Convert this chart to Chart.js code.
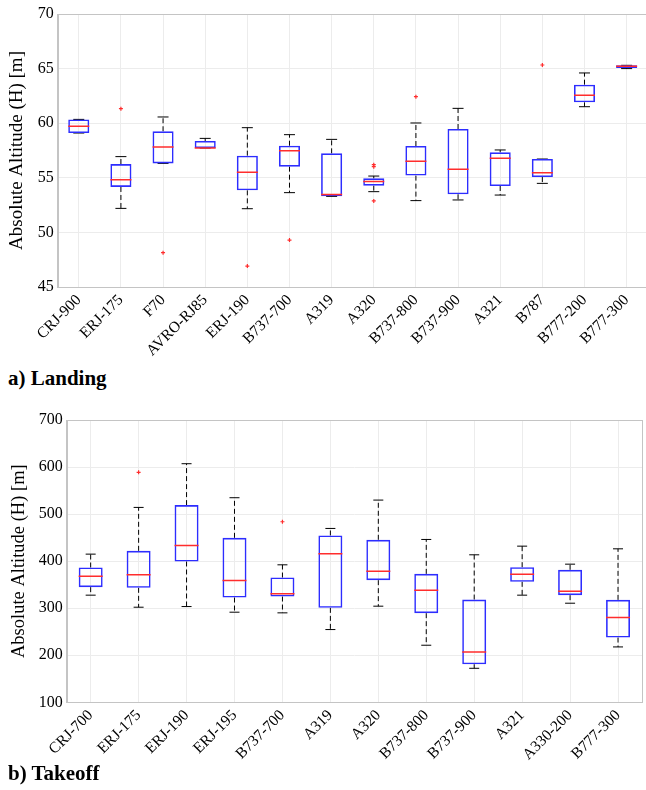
<!DOCTYPE html>
<html>
<head>
<meta charset="utf-8">
<script src="https://cdn.jsdelivr.net/npm/chart.js@4/dist/chart.umd.min.js"></script>
<style>
  html, body { margin: 0; padding: 0; background: #fff; }
  body { width: 646px; height: 790px; position: relative; overflow: hidden; font-family: "Liberation Serif", serif; }
  .wrap { position: absolute; left: 0; overflow: hidden; width: 646px; }
  .panel { position: absolute; left: 8px; font-family: "Liberation Serif", serif; font-weight: bold; font-size: 21px; color: #000; line-height: 1; }
</style>
</head>
<body>
<div class="wrap" style="top:0;height:362px;"><canvas id="c1" width="650" height="362" style="width:650px;height:362px;"></canvas></div>
<div class="panel" style="top:368px;">a) Landing</div>
<div class="wrap" style="top:400px;height:362px;"><canvas id="c2" width="646" height="362" style="width:646px;height:362px;"></canvas></div>
<div class="panel" style="top:763px;">b) Takeoff</div>
<script>
// ---------- a) Landing ----------
const landCats = ['CRJ-900','ERJ-175','F70','AVRO-RJ85','ERJ-190','B737-700','A319','A320','B737-800','B737-900','A321','B787','B777-200','B777-300'];
const landMin  = [59.1, 52.2, 56.32, 57.73, 52.17, 53.64, 53.3, 53.73, 52.91, 52.97, 53.42, 54.49, 61.51, 65.0];
const landQ1   = [59.1, 54.16, 56.32, 57.73, 53.85, 56.02, 53.3, 54.28, 55.2, 53.49, 54.25, 55.07, 61.91, 65.05];
const landMed  = [59.71, 54.83, 57.82, 57.73, 55.5, 57.48, 53.46, 54.65, 56.51, 55.78, 56.78, 55.47, 62.55, 65.21];
const landQ3   = [60.35, 56.26, 59.26, 58.37, 57.03, 57.94, 57.24, 54.95, 57.91, 59.47, 57.33, 56.72, 63.53, 65.3];
const landMax  = [60.35, 56.94, 60.57, 58.61, 59.59, 58.95, 58.52, 55.16, 60.02, 61.36, 57.55, 56.72, 64.6, 65.3];
const landOutCat = ['ERJ-175','F70','ERJ-190','B737-700','A320','A320','A320','B737-800','B787'];
const landOutVal = [61.33, 48.14, 46.92, 49.3, 56.2, 56.02, 52.88, 62.43, 65.33];
const landTicks = [45, 50, 55, 60, 65, 70];

// ---------- b) Takeoff ----------
const takeCats = ['CRJ-700','ERJ-175','ERJ-190','ERJ-195','B737-700','A319','A320','B737-800','B737-900','A321','A330-200','B777-300'];
const takeMin  = [327.7, 302.1, 303.5, 291.5, 290.1, 254.6, 304.3, 221.3, 172.3, 327.7, 310.6, 217.7];
const takeQ1   = [344.7, 343.3, 399.3, 322.7, 324.8, 300.7, 359.6, 289.4, 180.9, 356.0, 327.7, 237.6];
const takeMed  = [368.1, 371.0, 433.3, 358.9, 330.5, 415.6, 378.7, 338.3, 207.1, 372.3, 336.2, 280.1];
const takeQ3   = [386.5, 422.0, 519.1, 449.6, 365.2, 454.6, 445.4, 373.0, 318.4, 387.2, 381.6, 317.7];
const takeMax  = [414.9, 514.2, 607.1, 534.8, 392.2, 469.5, 529.8, 446.1, 413.5, 431.9, 393.6, 426.2];
const takeOutCat = ['ERJ-175','B737-700'];
const takeOutVal = [588.7, 483.7];
const takeTicks = [100, 200, 300, 400, 500, 600, 700];

const SERIF = '"Liberation Serif", "Times New Roman", serif';
const BLUE = 'rgb(45,45,255)';
const RED = 'rgb(255,45,45)';
const FRAME = '#c4c4c4';
const GRID = '#ececec';

const framePlugin = {
  id: 'frame',
  beforeDatasetsDraw(chart) {
    const a = chart.chartArea, ctx = chart.ctx;
    ctx.save();
    ctx.strokeStyle = FRAME;
    ctx.lineWidth = 1;
    ctx.strokeRect(Math.round(a.left) + 0.5, Math.round(a.top) + 0.5, Math.round(a.right - a.left), Math.round(a.bottom - a.top));
    ctx.restore();
  }
};

function makeBox(canvasId, cats, mn, q1, med, q3, mx, outCat, outVal, ticks, cfg) {
  const whisk = [];
  const caps = [];
  const meds = [];
  cats.forEach((c, i) => {
    whisk.push({x: c, y: q3[i]}, {x: c, y: mx[i]}, {x: c, y: null});
    whisk.push({x: c, y: q1[i]}, {x: c, y: mn[i]}, {x: c, y: null});
    caps.push({x: c, y: mx[i]}, {x: c, y: mn[i]});
    meds.push({x: c, y: med[i]});
  });
  const outs = outCat.map((c, i) => ({x: c, y: outVal[i]}));
  return new Chart(document.getElementById(canvasId), {
    type: 'bar',
    data: {
      labels: cats,
      datasets: [
        { type: 'line', label: 'median', data: meds, showLine: false, pointStyle: 'line',
          pointRadius: cfg.medR, pointBorderColor: RED, pointBorderWidth: 1.5, borderColor: RED, order: 0 },
        { type: 'line', label: 'outliers', data: outs, showLine: false, pointStyle: 'cross',
          pointRadius: 2, pointBorderColor: RED, pointBorderWidth: 1.2, borderColor: RED, order: 1 },
        { type: 'bar', label: 'box', data: cats.map((c, i) => [q1[i], q3[i]]),
          backgroundColor: 'rgba(0,0,0,0)', borderColor: BLUE, borderWidth: 1.6, borderSkipped: false,
          barPercentage: 0.5, categoryPercentage: 1.0, order: 2 },
        { type: 'line', label: 'caps', data: caps, showLine: false, pointStyle: 'line',
          pointRadius: cfg.capR, pointBorderColor: '#000', pointBorderWidth: 1, borderColor: '#000', order: 3 },
        { type: 'line', label: 'whiskers', data: whisk, spanGaps: false, pointRadius: 0,
          borderColor: '#000', borderWidth: 1, borderDash: [5, 3], order: 4 }
      ]
    },
    options: {
      responsive: false,
      animation: false,
      layout: { autoPadding: false, padding: { top: cfg.padTop, right: cfg.padRight, left: 0, bottom: 0 } },
      plugins: { legend: { display: false }, tooltip: { enabled: false } },
      scales: {
        x: {
          offset: true,
          grid: { color: GRID, offset: false, drawTicks: false },
          border: { color: FRAME },
          ticks: { color: '#000', font: { family: SERIF, size: 15.5 }, maxRotation: 45, minRotation: 45, padding: 4, autoSkip: false },
          afterFit(s) { s.height = cfg.xH; s.paddingLeft = 0; s.paddingRight = 0; }
        },
        y: {
          min: ticks[0], max: ticks[ticks.length - 1],
          afterBuildTicks(s) { s.ticks = ticks.map(v => ({value: v})); },
          grid: { color: GRID, drawTicks: false },
          border: { color: FRAME },
          ticks: { color: '#000', font: { family: SERIF, size: 16 }, padding: cfg.yPad },
          title: { display: true, text: 'Absolute Altitude (H) [m]', color: '#000',
                   font: { family: SERIF, size: cfg.titleSize }, padding: { top: cfg.titlePad, bottom: 0 } },
          afterFit(s) { s.width = cfg.yW; s.paddingTop = 0; s.paddingBottom = 0; }
        }
      }
    },
    plugins: [framePlugin]
  });
}

makeBox('c1', landCats, landMin, landQ1, landMed, landQ3, landMax, landOutCat, landOutVal, landTicks,
  { medR: 10.5, capR: 5.5, padTop: 14, padRight: 2.3, xH: 75, yW: 57.7, yPad: 4, titlePad: 6, titleSize: 19 });
makeBox('c2', takeCats, takeMin, takeQ1, takeMed, takeQ3, takeMax, takeOutCat, takeOutVal, takeTicks,
  { medR: 12, capR: 5, padTop: 20, padRight: 4, xH: 59.7, yW: 66.7, yPad: 4, titlePad: 8, titleSize: 18.5 });
</script>
</body>
</html>
